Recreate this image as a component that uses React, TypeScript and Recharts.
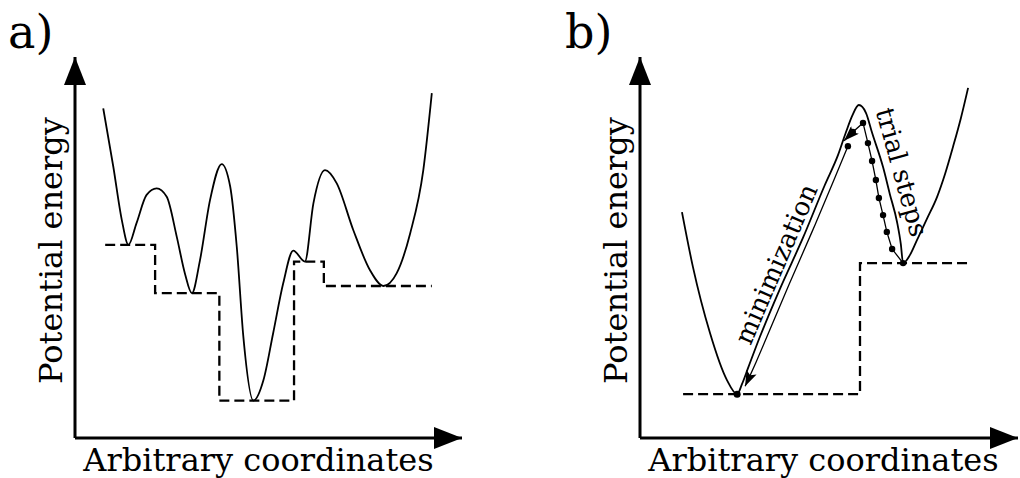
import { LineChart, Line, XAxis, YAxis, ReferenceDot, Label } from 'recharts';

type Pt = { x: number; y: number };
const pts = (rows: number[][]): Pt[] => rows.map(([x, y]) => ({ x, y }));

// both panels use arbitrary 0-100 units on each axis (100 = arrow tip)

// a) rugged landscape
const landscapeA = pts([
    [7.3, 86.5], [9.9, 71.2], [12.1, 57.2], [13.8, 50.7], [15.9, 56.4], [18.5, 63.8],
    [21.1, 65.5], [23.7, 63.3], [26.3, 52.8], [28.4, 43.2], [30.2, 38.0], [32.3, 46.7],
    [34.9, 62.5], [37.9, 71.9], [40.1, 66.0], [41.8, 50.2], [43.5, 26.6], [46.1, 9.8],
    [48.7, 15.2], [51.2, 27.5], [53.8, 40.6], [56.4, 49.2], [59.4, 46.3], [61.6, 61.6],
    [64.6, 70.3], [67.6, 66.9], [71.9, 54.6], [76.2, 44.1], [79.7, 39.9], [83.1, 43.2],
    [86.6, 53.7], [90.0, 70.3], [92.2, 90.5]
]);
// basin-hopping levels (step after each x)
const stepsA = pts([
    [7.8, 50.7], [20.7, 38.0], [37.3, 9.8], [56.6, 46.3], [64.3, 39.9], [92.2, 39.9]
]);

// b) double well
const landscapeB = pts([
    [11.1, 59.3], [14.0, 44.9], [18.5, 27.6], [23.0, 15.2], [25.7, 11.5], [27.0, 14.2],
    [28.6, 18.4], [31.7, 26.5], [37.0, 39.1], [43.1, 52.5], [48.9, 66.4], [52.4, 74.3],
    [54.5, 80.3], [56.1, 84.5], [57.9, 87.4], [59.8, 85.3], [61.4, 80.1], [64.3, 71.1],
    [66.1, 64.0], [68.0, 56.7], [69.0, 50.9], [69.6, 45.9], [71.4, 48.0], [73.3, 52.0],
    [75.9, 57.5], [78.6, 63.3], [80.7, 69.3], [82.8, 76.4], [84.9, 84.0], [86.8, 91.9]
]);
const stepsB = pts([[11.4, 11.5], [58.2, 45.9], [86.8, 45.9]]);
const trialSteps = pts([
    [69.6, 45.9], [66.7, 49.6], [65.3, 54.1], [64.3, 58.5], [63.2, 63.0], [62.4, 67.7],
    [61.4, 72.7], [60.3, 77.4], [59.0, 82.7], [56.3, 80.3], [54.0, 78.0]
]);
const minimization = pts([
    [55.0, 76.6], [51.3, 67.7], [45.5, 54.1], [39.4, 40.2], [34.1, 27.8], [30.7, 19.9], [27.8, 13.6]
]);
const minimumB = { x: 25.7, y: 11.5 };
const minimizationStart = { x: 55.0, y: 76.6 };

const FONT = '"DejaVu Serif", "Liberation Serif", serif';
const AXIS_LINE = { stroke: '#000', strokeWidth: 3 };
const HEIGHT = 478;
const MARGIN_TOP = 57;
const MARGIN_BOTTOM = 39;

const arrowRight = ({ cx, cy }: any) => (
    <polygon points={`${cx},${cy} ${cx - 28},${cy - 11} ${cx - 28},${cy + 11}`} fill="#000" />
);
const arrowUp = ({ cx, cy }: any) => (
    <polygon points={`${cx},${cy} ${cx - 11},${cy + 28} ${cx + 11},${cy + 28}`} fill="#000" />
);
const rotatedText = (text: string, angle: number) => ({ cx, cy }: any) => (
    <text
        x={cx}
        y={cy}
        transform={`rotate(${angle} ${cx} ${cy})`}
        textAnchor="middle"
        dominantBaseline="central"
        fontSize={26}
        fill="#000"
    >
        {text}
    </text>
);
const xTitle = (shift: number) => ({ viewBox }: any) => (
    <text x={viewBox.x + viewBox.width / 2 + shift} y={viewBox.y + 33} textAnchor="middle" fontSize={32} fill="#000">
        Arbitrary coordinates
    </text>
);
const yTitle = ({ viewBox }: any) => {
    const x = viewBox.x + viewBox.width - 13;
    const y = viewBox.y + viewBox.height / 2 + 3;
    return (
        <text x={x} y={y} transform={`rotate(-90 ${x} ${y})`} textAnchor="middle" fontSize={32} fill="#000">
            Potential energy
        </text>
    );
};
const stepDot = (p: any) =>
    p.index === trialSteps.length - 1 ? (
        <g key={`d${p.index}`} />
    ) : (
        <circle key={`d${p.index}`} cx={p.cx} cy={p.cy} r={3.2} fill="#000" />
    );

function Tag({ text, left }: { text: string; left: number }) {
    return (
        <div style={{ position: 'absolute', left, top: 0, fontSize: 46, lineHeight: '64px' }}>{text}</div>
    );
}

export default function App() {
    return (
        <div
            style={{
                position: 'absolute',
                left: 0,
                top: 0,
                width: 1020,
                height: HEIGHT,
                background: '#fff',
                fontFamily: FONT,
                display: 'flex'
            }}
        >
            <Tag text="a)" left={8} />
            <Tag text="b)" left={565} />

            <LineChart width={510} height={HEIGHT} margin={{ top: MARGIN_TOP, left: 74, right: 48, bottom: MARGIN_BOTTOM }}>
                <XAxis type="number" dataKey="x" domain={[0, 100]} height={1} tick={false} tickLine={false} axisLine={AXIS_LINE}>
                    <Label content={xTitle(-10)} />
                </XAxis>
                <YAxis type="number" domain={[0, 100]} width={1} tick={false} tickLine={false} axisLine={AXIS_LINE}>
                    <Label content={yTitle} />
                </YAxis>
                <Line data={stepsA} dataKey="y" type="stepAfter" stroke="#000" strokeWidth={2.3} strokeDasharray="10 5" dot={false} isAnimationActive={false} />
                <Line data={landscapeA} dataKey="y" type="monotone" stroke="#000" strokeWidth={1.8} dot={false} isAnimationActive={false} />
                <ReferenceDot x={100} y={0} r={0} shape={arrowRight} />
                <ReferenceDot x={0} y={100} r={0} shape={arrowUp} />
            </LineChart>

            <LineChart width={510} height={HEIGHT} margin={{ top: MARGIN_TOP, left: 129, right: 2, bottom: MARGIN_BOTTOM }}>
                <defs>
                    <marker id="tipB" viewBox="0 0 14 10" refX="14" refY="5" markerWidth={16} markerHeight={11} markerUnits="userSpaceOnUse" orient="auto">
                        <path d="M0,0 L14,5 L0,10 L3,5 z" fill="#000" />
                    </marker>
                </defs>
                <XAxis type="number" dataKey="x" domain={[0, 100]} height={1} tick={false} tickLine={false} axisLine={AXIS_LINE}>
                    <Label content={xTitle(-5.5)} />
                </XAxis>
                <YAxis type="number" domain={[0, 100]} width={1} tick={false} tickLine={false} axisLine={AXIS_LINE}>
                    <Label content={yTitle} />
                </YAxis>
                <Line data={stepsB} dataKey="y" type="stepAfter" stroke="#000" strokeWidth={2.3} strokeDasharray="10 5" dot={false} isAnimationActive={false} />
                <Line data={landscapeB} dataKey="y" type="monotone" stroke="#000" strokeWidth={1.8} dot={false} isAnimationActive={false} />
                <Line data={trialSteps} dataKey="y" type="linear" stroke="#000" strokeWidth={1.3} dot={stepDot} markerEnd="url(#tipB)" isAnimationActive={false} />
                <Line data={minimization} dataKey="y" type="natural" stroke="#000" strokeWidth={1.3} dot={false} markerEnd="url(#tipB)" isAnimationActive={false} />
                <ReferenceDot x={minimumB.x} y={minimumB.y} r={3.5} fill="#000" stroke="none" />
                <ReferenceDot x={minimizationStart.x} y={minimizationStart.y} r={3.2} fill="#000" stroke="none" />
                <ReferenceDot x={36.0} y={45.7} r={0} shape={rotatedText('minimization', -66.7)} />
                <ReferenceDot x={69.3} y={69.8} r={0} shape={rotatedText('trial steps', 74.4)} />
                <ReferenceDot x={100} y={0} r={0} shape={arrowRight} />
                <ReferenceDot x={0} y={100} r={0} shape={arrowUp} />
            </LineChart>
        </div>
    );
}
